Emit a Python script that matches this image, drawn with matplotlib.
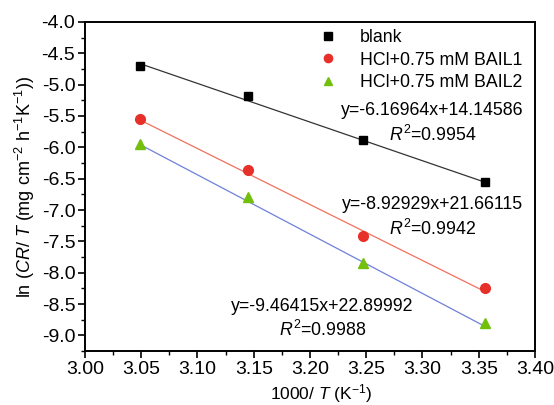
import matplotlib
matplotlib.use('Agg')
import matplotlib.pyplot as plt
import numpy as np

plt.rcParams['font.family'] = ['Liberation Sans', 'DejaVu Sans']
plt.rcParams['mathtext.fontset'] = 'custom'
plt.rcParams['mathtext.rm'] = 'Liberation Sans'
plt.rcParams['mathtext.it'] = 'Liberation Sans:italic'

# data
x = [3.0488, 3.1447, 3.2468, 3.3557]
blank = [-4.70, -5.18, -5.88, -6.56]
bail1 = [-5.545, -6.36, -7.42, -8.24]
bail2 = [-5.94, -6.80, -7.84, -8.81]

# linear fits as printed on the chart
fits = [(-6.16964, 14.14586, 0.9954), (-8.92929, 21.66115, 0.9942), (-9.46415, 22.89992, 0.9988)]
labels = ['blank', 'HCl+0.75 mM BAIL1', 'HCl+0.75 mM BAIL2']
markers = ['s', 'o', '^']
mcolors = ['#000000', '#e8302a', '#72c00c']
lcolors = ['#333333', '#f07060', '#6f80d8']
text_pos = [(3.309, -5.41, -5.80), (3.309, -6.92, -7.30), (3.211, -8.54, -8.92)]

fig = plt.figure(figsize=(5.54, 4.05), dpi=100)
ax = fig.add_axes([0.1534, 0.1333, 0.8123, 0.8124])

xs = np.array([x[0], x[-1]])
for i, ys in enumerate([blank, bail1, bail2]):
    a, b, r2 = fits[i]
    ax.plot(xs, a * xs + b, color=lcolors[i], lw=0.9, zorder=2)
    ax.plot(x, ys, linestyle='none', marker=markers[i], color=mcolors[i],
            markersize=7 if i else 6, label=labels[i], zorder=3)
    tx, ty1, ty2 = text_pos[i]
    ax.text(tx, ty1, 'y=%.5fx+%.5f' % (a, b), ha='center', va='center', fontsize=12.8)
    ax.text(tx, ty2, r'$\it{R}^2$=%.4f' % r2, ha='center', va='center', fontsize=12.8)

ax.set_xlim(3.0, 3.4)
ax.set_ylim(-9.25, -4.0)
ax.set_xticks(np.arange(3.0, 3.401, 0.05))
ax.set_xticks(np.arange(3.025, 3.4, 0.05), minor=True)
ax.set_yticks(np.arange(-9.0, -3.99, 0.5))
ax.set_yticks(np.arange(-9.25, -4.0, 0.25), minor=True)
ax.xaxis.set_major_formatter(matplotlib.ticker.FormatStrFormatter('%.2f'))
ax.yaxis.set_major_formatter(matplotlib.ticker.FormatStrFormatter('%.1f'))
ax.tick_params(which='major', direction='out', length=5, width=1.2, labelsize=14, pad=2)
ax.tick_params(which='minor', direction='out', length=3, width=1.0)
for s in ax.spines.values():
    s.set_linewidth(1.4)

ax.set_xlabel(r'1000/ $\it{T}$ (K$^{-1}$)', fontsize=12.5)
ax.xaxis.set_label_coords(0.524, -0.095)
ax.set_ylabel(r'ln ($\it{CR}$/ $\it{T}$ (mg cm$^{-2}$ h$^{-1}$K$^{-1}$))', fontsize=13)
ax.yaxis.set_label_coords(-0.107, 0.5)

ax.legend(loc='upper right', frameon=False, fontsize=12.8, handletextpad=0.8,
          borderaxespad=0.2, labelspacing=0.3, bbox_to_anchor=(0.995, 1.01), markerscale=0.85)

fig.savefig('out.png', dpi=100)
